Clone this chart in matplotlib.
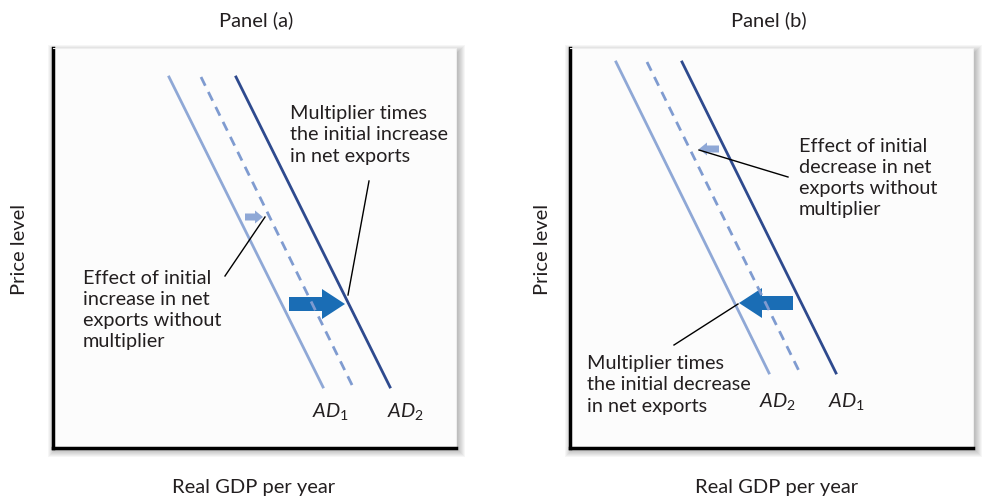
import matplotlib
matplotlib.use('Agg')
import matplotlib.pyplot as plt
from matplotlib.patches import Rectangle

plt.rcParams['font.family'] = ['Lato', 'DejaVu Sans']
plt.rcParams['mathtext.fontset'] = 'custom'
plt.rcParams['mathtext.it'] = 'Lato:italic'
plt.rcParams['mathtext.rm'] = 'Lato'

# Data (pixel-like units inside each 403 x 400 box)
# Panel (a): increase in net exports
a_ad1_x = [116, 270]
a_ad1_y = [371, 61]
a_mid_x = [148, 300]
a_mid_y = [371, 61]
a_ad2_x = [183, 337]
a_ad2_y = [371, 61]

# Panel (b): decrease in net exports
b_ad2_x = [46, 199]
b_ad2_y = [386, 75]
b_mid_x = [77, 230]
b_mid_y = [386, 75]
b_ad1_x = [112, 266]
b_ad1_y = [386, 75]

light = '#8fa8d6'
dashc = '#7f9bd0'
dark = '#2e4a8e'
arrowc = '#1a6db5'

W, H = 986, 500
fig = plt.figure(figsize=(9.86, 5.0), dpi=100)
fig.patch.set_facecolor('white')


def box(left_px):
    x0 = left_px / W
    y0 = (H - 448) / H
    w = 403 / W
    h = 400 / H
    # soft drop shadow
    for i in range(1, 9):
        fig.patches.append(Rectangle((x0 - (i - 3) / W, y0 - (i + 1) / H),
                                     w + (2 * i - 2) / W, h + (2 * i - 4) / H,
                                     transform=fig.transFigure, facecolor='black',
                                     edgecolor='none', alpha=0.035, zorder=-5))
    ax = fig.add_axes([x0, y0, w, h], zorder=2)
    ax.set_xlim(0, 403)
    ax.set_ylim(0, 400)
    ax.set_facecolor('#fcfcfc')
    ax.set_xticks([])
    ax.set_yticks([])
    ax.spines['left'].set_linewidth(2.5)
    ax.spines['bottom'].set_linewidth(2.5)
    ax.spines['top'].set_color('#eeeeee')
    ax.spines['right'].set_color('#eeeeee')
    return ax


txt = dict(fontsize=14.3, color='#231f20', linespacing=1.3)

# ---------------- Panel (a)
ax = box(53)
ax.plot(a_ad1_x, a_ad1_y, color=light, lw=2)
ax.plot(a_mid_x, a_mid_y, color=dashc, lw=2, ls=(0, (3.5, 2.5)))
ax.plot(a_ad2_x, a_ad2_y, color=dark, lw=2)
ax.arrow(192, 231, 18, 0, width=7, head_width=13, head_length=8,
         length_includes_head=True, color=light, lw=0)
ax.arrow(236, 144, 56, 0, width=14, head_width=30, head_length=23,
         length_includes_head=True, color=arrowc, lw=0)
ax.plot([316, 295], [267, 153], color='black', lw=1)
ax.plot([172, 212], [172, 231], color='black', lw=1)
ax.text(237, 313, 'Multiplier times\nthe initial increase\nin net exports',
        ha='left', va='center', **txt)
ax.text(30, 138, 'Effect of initial\nincrease in net\nexports without\nmultiplier',
        ha='left', va='center', **txt)
ax.text(259, 36, r'$AD_1$', fontsize=14.5, ha='left', va='center', color='#231f20')
ax.text(334, 36, r'$AD_2$', fontsize=14.5, ha='left', va='center', color='#231f20')

# ---------------- Panel (b)
bx = box(570)
bx.plot(b_ad2_x, b_ad2_y, color=light, lw=2)
bx.plot(b_mid_x, b_mid_y, color=dashc, lw=2, ls=(0, (3.5, 2.5)))
bx.plot(b_ad1_x, b_ad1_y, color=dark, lw=2)
bx.arrow(149, 299, -20, 0, width=7, head_width=13, head_length=8,
         length_includes_head=True, color=light, lw=0)
bx.arrow(223, 145, -54, 0, width=14, head_width=30, head_length=23,
         length_includes_head=True, color=arrowc, lw=0)
bx.plot([218, 129], [271, 298], color='black', lw=1)
bx.plot([104, 168], [103, 144], color='black', lw=1)
bx.text(229, 270, 'Effect of initial\ndecrease in net\nexports without\nmultiplier',
        ha='left', va='center', **txt)
bx.text(17, 63, 'Multiplier times\nthe initial decrease\nin net exports',
        ha='left', va='center', **txt)
bx.text(189, 46, r'$AD_2$', fontsize=14.5, ha='left', va='center', color='#231f20')
bx.text(258, 46, r'$AD_1$', fontsize=14.5, ha='left', va='center', color='#231f20')

# titles and axis labels
lab = dict(fontsize=14.5, color='#231f20', ha='center', va='center')
fig.text(256 / W, 1 - 20 / H, 'Panel (a)', **lab)
fig.text(769 / W, 1 - 20 / H, 'Panel (b)', **lab)
fig.text(20 / W, 1 - 249 / H, 'Price level', rotation=90, **lab)
fig.text(542 / W, 1 - 249 / H, 'Price level', rotation=90, **lab)
fig.text(254 / W, 1 - 488 / H, 'Real GDP per year', **lab)
fig.text(777 / W, 1 - 488 / H, 'Real GDP per year', **lab)

fig.savefig('out.png', dpi=100)
